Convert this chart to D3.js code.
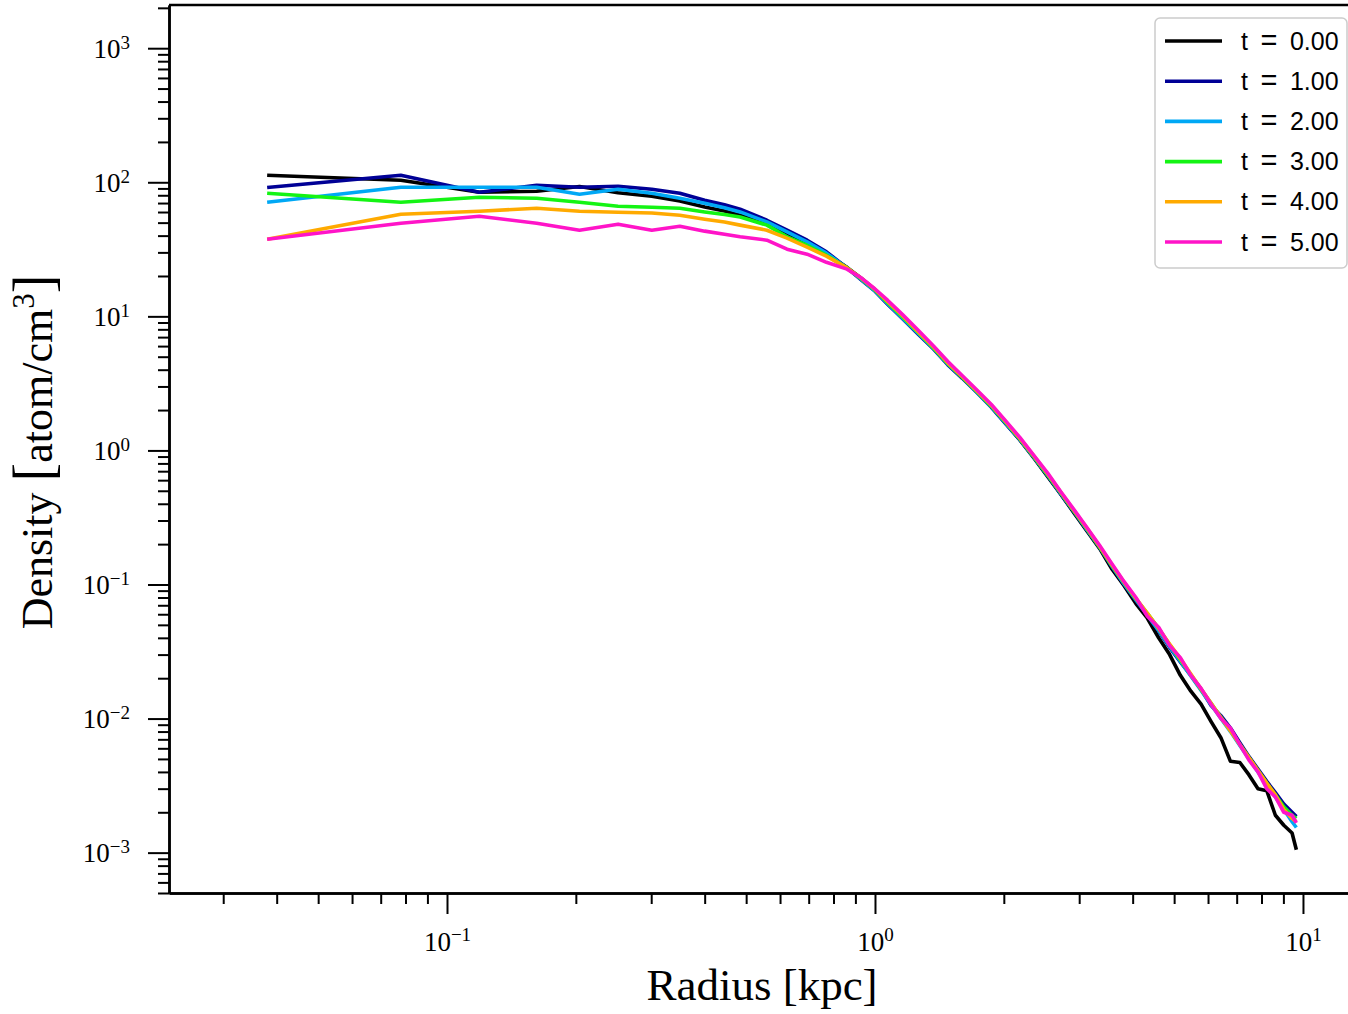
<!DOCTYPE html>
<html>
<head>
<meta charset="utf-8">
<script src="https://cdn.jsdelivr.net/npm/d3@7"></script>
<style>
  body { margin: 0; background: #fff; }
  svg { display: block; }
</style>
</head>
<body>
<div id="density-profile"></div>
<script>
// radius bins [kpc]
const radius = [
  0.038, 0.078, 0.119, 0.162, 0.204, 0.251, 0.301, 0.350, 0.400, 0.445, 0.484, 0.559, 0.623, 0.694, 0.77,
  0.86, 0.93, 1.00, 1.07, 1.16, 1.26, 1.37, 1.48, 1.60, 1.73,
  1.87, 2.02, 2.18, 2.35, 2.53, 2.72, 2.92, 3.13, 3.35, 3.58,
  3.82, 4.07, 4.33, 4.60, 4.88, 5.17, 5.47, 5.78, 6.10, 6.43,
  6.77, 7.12, 7.48, 7.85, 8.23, 8.62, 9.02, 9.43, 9.65
];

// density [atom/cm^3] per snapshot
const rhoT0 = [
  112.8, 103.5, 84.3, 85.7, 93, 83.5, 78.7, 72.6, 65.4, 61, 56.8, 49.5, 41.7, 35.1, 29.1,
  23.2, 19.2, 15.8, 12.6, 9.9, 7.7, 5.9, 4.5, 3.5, 2.75,
  2.15, 1.6, 1.2, 0.88, 0.64, 0.47, 0.34, 0.25, 0.185, 0.13,
  0.098, 0.072, 0.056, 0.040, 0.030, 0.021, 0.016, 0.0128, 0.0095, 0.0072,
  0.0048, 0.0047, 0.0038, 0.0030, 0.0029, 0.0019, 0.0016, 0.0014, 0.00105
];
const rhoT1 = [
  91.3, 112.8, 84.3, 95, 91.8, 93.4, 88.7, 82.8, 73.4, 68, 63, 52.1, 43.9, 37, 30.3,
  23.0, 18.6, 15.4, 12.3, 9.6, 7.4, 5.7, 4.35, 3.45, 2.7,
  2.1, 1.58, 1.2, 0.89, 0.65, 0.47, 0.345, 0.255, 0.188, 0.135,
  0.1, 0.076, 0.059, 0.045, 0.034, 0.0265, 0.021, 0.0165, 0.0125, 0.0105,
  0.0085, 0.0066, 0.0052, 0.0042, 0.0034, 0.0028, 0.0023, 0.0020, 0.00186
];
const rhoT2 = [
  70.9, 91.8, 91.8, 91.8, 81.4, 88.7, 82.8, 76, 69.8, 64.5, 60.1, 50.6, 42.6, 35.9, 29.6,
  23.0, 18.8, 15.5, 12.5, 9.7, 7.5, 5.75, 4.4, 3.5, 2.72,
  2.12, 1.6, 1.21, 0.89, 0.655, 0.475, 0.35, 0.255, 0.19, 0.137,
  0.101, 0.077, 0.059, 0.0455, 0.0345, 0.0268, 0.0208, 0.0162, 0.0127, 0.0100,
  0.0080, 0.0063, 0.0050, 0.0040, 0.0032, 0.0026, 0.0021, 0.0017, 0.00154
];
const rhoT3 = [
  82.8, 70.9, 77.3, 76, 70.9, 66.2, 65.1, 64, 60.1, 57.5, 55.1, 47.9, 39.2, 33.9, 28.6,
  23.0, 19.0, 15.7, 12.7, 9.9, 7.6, 5.8, 4.45, 3.5, 2.75,
  2.14, 1.62, 1.22, 0.90, 0.66, 0.48, 0.35, 0.26, 0.19, 0.138,
  0.103, 0.078, 0.061, 0.047, 0.0355, 0.0275, 0.0212, 0.0165, 0.013, 0.0102,
  0.0082, 0.0064, 0.0051, 0.0041, 0.0033, 0.0027, 0.0022, 0.0019, 0.0018
];
const rhoT4 = [
  37.6, 57.8, 60.8, 64, 60.8, 59.8, 59, 56.8, 53, 50.5, 47.9, 43.9, 38.3, 32.8, 28.1,
  23.0, 19.2, 15.9, 12.9, 10.1, 7.7, 5.9, 4.5, 3.55, 2.78,
  2.17, 1.64, 1.23, 0.91, 0.67, 0.485, 0.355, 0.262, 0.192, 0.140,
  0.104, 0.079, 0.061, 0.047, 0.036, 0.028, 0.0215, 0.0166, 0.013, 0.0102,
  0.0081, 0.0064, 0.0051, 0.0041, 0.0033, 0.0027, 0.0021, 0.0018, 0.0017
];
const rhoT5 = [
  37.6, 49.5, 55.8, 49.5, 43.9, 48.7, 43.9, 47, 43.2, 41, 39.2, 37.0, 31.7, 29.1, 25.3,
  22.5, 19.3, 16.0, 13.2, 10.3, 7.9, 6.0, 4.6, 3.6, 2.82,
  2.2, 1.66, 1.25, 0.92, 0.68, 0.49, 0.36, 0.265, 0.195, 0.142,
  0.105, 0.080, 0.058, 0.048, 0.035, 0.0285, 0.021, 0.0168, 0.0128, 0.0100,
  0.0085, 0.0064, 0.0049, 0.0040, 0.0030, 0.0026, 0.0020, 0.0019, 0.00167
];

const seriesLabels = ["0.00", "1.00", "2.00", "3.00", "4.00", "5.00"];
const seriesColors = ["#000000", "#000096", "#00a8f5", "#14f414", "#ffaa00", "#ff14c8"];
const xTickExps = [-1, 0, 1];
const yTickExps = [-3, -2, -1, 0, 1, 2, 3];

const series = [rhoT0, rhoT1, rhoT2, rhoT3, rhoT4, rhoT5].map((vals, i) => ({
  label: seriesLabels[i],
  color: seriesColors[i],
  points: radius.map((r, j) => [r, vals[j]])
}));

const margin = { top: 5, left: 169 };
const width = 1186;
const height = 888;

const svg = d3.select("#density-profile")
  .append("svg")
  .attr("width", 1348)
  .attr("height", 1014);

const g = svg.append("g")
  .attr("transform", `translate(${margin.left},${margin.top})`);

const x = d3.scaleLog().domain([0.02241, 13.23]).range([0, width]);
const y = d3.scaleLog().domain([5e-4, 2.1e3]).range([height, 0]);

const serif = "'Liberation Serif', 'Times New Roman', serif";
const minus = "\u2212";
const expText = e => (e < 0 ? minus + Math.abs(e) : String(e));

// minor ticks
const xMinor = x.ticks().filter(v => !xTickExps.some(e => Math.abs(v - 10 ** e) < 1e-9));
const yMinor = y.ticks().filter(v => !yTickExps.some(e => Math.abs(v / 10 ** e - 1) < 1e-9));

g.append("g")
  .attr("class", "axis")
  .attr("transform", `translate(0,${height})`)
  .call(d3.axisBottom(x).tickValues(xMinor).tickSize(11).tickSizeOuter(0).tickFormat(""));

g.append("g")
  .attr("class", "axis")
  .call(d3.axisLeft(y).tickValues(yMinor).tickSize(11).tickSizeOuter(0).tickFormat(""));

// major ticks with 10^k labels
const xAxis = g.append("g")
  .attr("class", "axis")
  .attr("transform", `translate(0,${height})`)
  .call(d3.axisBottom(x).tickValues(xTickExps.map(e => 10 ** e)).tickSize(21).tickSizeOuter(0).tickFormat(""));

xAxis.selectAll(".tick text").remove();
xAxis.selectAll(".tick").each(function(d, i) {
  const t = d3.select(this).append("text")
    .attr("x", 0)
    .attr("y", 58)
    .attr("text-anchor", "middle")
    .attr("fill", "#000")
    .style("font-family", serif)
    .style("font-size", "27px");
  t.append("tspan").text("10");
  t.append("tspan").attr("dy", -10).style("font-size", "19px").text(expText(xTickExps[i]));
});

const yAxis = g.append("g")
  .attr("class", "axis")
  .call(d3.axisLeft(y).tickValues(yTickExps.map(e => 10 ** e)).tickSize(21).tickSizeOuter(0).tickFormat(""));

yAxis.selectAll(".tick text").remove();
yAxis.selectAll(".tick").each(function(d, i) {
  const t = d3.select(this).append("text")
    .attr("x", -39)
    .attr("y", 9)
    .attr("text-anchor", "end")
    .attr("fill", "#000")
    .style("font-family", serif)
    .style("font-size", "27px");
  t.append("tspan").text("10");
  t.append("tspan").attr("dy", -9).style("font-size", "19px").text(expText(yTickExps[i]));
});

g.selectAll(".axis .domain").attr("stroke", "#000").attr("stroke-width", 2.5);
g.selectAll(".axis .tick line").attr("stroke", "#000").attr("stroke-width", 2);

// top spine
g.append("line")
  .attr("x1", 0).attr("x2", width)
  .attr("y1", 0).attr("y2", 0)
  .attr("stroke", "#000")
  .attr("stroke-width", 2.5);

// profiles
const line = d3.line()
  .x(d => x(d[0]))
  .y(d => y(d[1]));

g.selectAll(".profile")
  .data(series)
  .enter()
  .append("path")
  .attr("class", "profile")
  .attr("fill", "none")
  .attr("stroke", d => d.color)
  .attr("stroke-width", 3.6)
  .attr("stroke-linejoin", "round")
  .attr("d", d => line(d.points));

// axis labels
svg.append("text")
  .attr("x", 762)
  .attr("y", 1000)
  .attr("text-anchor", "middle")
  .style("font-family", serif)
  .style("font-size", "45px")
  .text("Radius [kpc]");

const yLabel = svg.append("text")
  .attr("transform", "translate(52,452) rotate(-90)")
  .attr("text-anchor", "middle")
  .style("font-family", serif)
  .style("font-size", "44px");
yLabel.append("tspan").text("Density ");
yLabel.append("tspan").style("font-size", "56px").text("[");
yLabel.append("tspan").text("atom/cm");
yLabel.append("tspan").attr("dy", -18).style("font-size", "31px").text("3");
yLabel.append("tspan").attr("dy", 18).style("font-size", "56px").text("]");

// legend
const legend = svg.append("g").attr("transform", "translate(1155,18)");
legend.append("rect")
  .attr("width", 192)
  .attr("height", 250)
  .attr("rx", 5)
  .attr("fill", "#fff")
  .attr("fill-opacity", 0.8)
  .attr("stroke", "#cccccc")
  .attr("stroke-width", 1.5);

const entry = legend.selectAll(".entry")
  .data(series)
  .enter()
  .append("g")
  .attr("class", "entry")
  .attr("transform", (d, i) => `translate(0,${23 + i * 40.2})`);

entry.append("line")
  .attr("x1", 10).attr("x2", 67)
  .attr("stroke", d => d.color)
  .attr("stroke-width", 3.6);

const entryText = entry.append("text")
  .attr("x", 86)
  .attr("y", 8.5)
  .style("font-family", "'Liberation Sans', Arial, sans-serif")
  .style("font-size", "25px");
entryText.append("tspan").text("t\u2002");
entryText.append("tspan").style("font-size", "29px").text("=");
entryText.append("tspan").text(d => `\u2002${d.label}`);
</script>
</body>
</html>
